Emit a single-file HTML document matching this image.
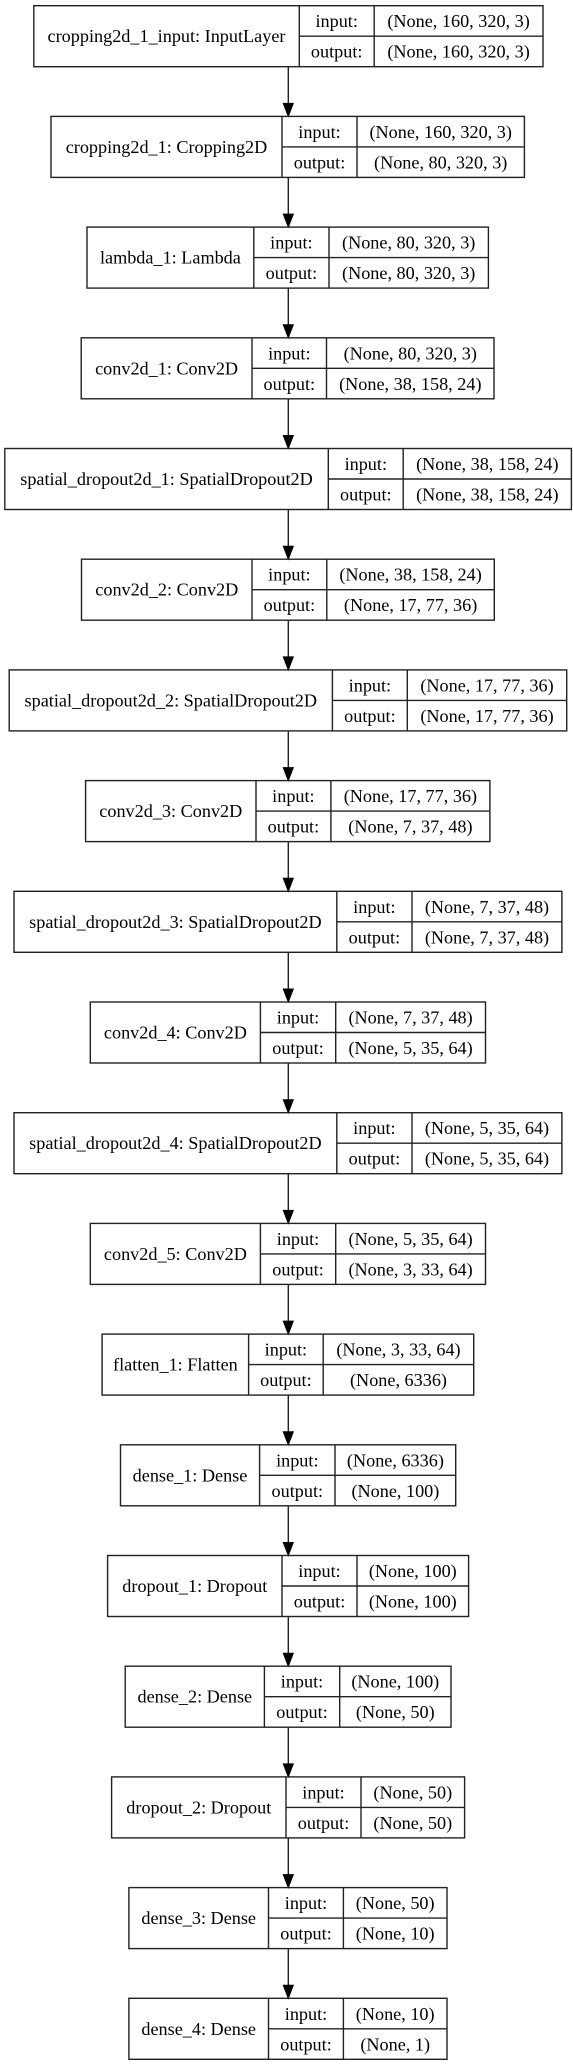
<!DOCTYPE html>
<html><head><meta charset="utf-8"><style>
html,body{margin:0;padding:0;background:#fff;}
svg{display:block;}
text{font-family:"Liberation Serif",serif;font-size:18.2px;fill:#000;text-anchor:middle;}
rect,line{stroke:#222;stroke-width:1.4;fill:none;}
polygon{fill:#000;stroke:#000;stroke-width:1;}
</style></head><body>
<svg width="573" height="2065" viewBox="0 0 573 2065" xmlns="http://www.w3.org/2000/svg">
<rect x="0" y="0" width="573" height="2065" style="fill:#fff;stroke:none"/>

<g transform="translate(0,5.7)">
<rect x="33.8" y="0" width="509.2" height="61"/><line x1="299.3" y1="0" x2="299.3" y2="61"/><line x1="374.2" y1="0" x2="374.2" y2="61"/><line x1="299.3" y1="30.5" x2="543" y2="30.5"/>
<text x="166.5" y="36.5">cropping2d_1_input: InputLayer</text><text x="336.7" y="21.5">input:</text><text x="336.7" y="52">output:</text><text x="458.6" y="21.5">(None, 160, 320, 3)</text><text x="458.6" y="52">(None, 160, 320, 3)</text>
<line x1="288.3" y1="61" x2="288.3" y2="98"/><polygon points="283.3,97.7 293.3,97.7 288.3,110.7"/></g>

<g transform="translate(0,116.4)">
<rect x="51" y="0" width="473.4" height="61"/><line x1="282" y1="0" x2="282" y2="61"/><line x1="357" y1="0" x2="357" y2="61"/><line x1="282" y1="30.5" x2="524.4" y2="30.5"/>
<text x="166.5" y="36.5">cropping2d_1: Cropping2D</text><text x="319.5" y="21.5">input:</text><text x="319.5" y="52">output:</text><text x="440.7" y="21.5">(None, 160, 320, 3)</text><text x="440.7" y="52">(None, 80, 320, 3)</text>
<line x1="288.3" y1="61" x2="288.3" y2="98"/><polygon points="283.3,97.7 293.3,97.7 288.3,110.7"/></g>

<g transform="translate(0,227.1)">
<rect x="87" y="0" width="401.4" height="61"/><line x1="253.8" y1="0" x2="253.8" y2="61"/><line x1="329" y1="0" x2="329" y2="61"/><line x1="253.8" y1="30.5" x2="488.4" y2="30.5"/>
<text x="170.4" y="36.5">lambda_1: Lambda</text><text x="291.4" y="21.5">input:</text><text x="291.4" y="52">output:</text><text x="408.7" y="21.5">(None, 80, 320, 3)</text><text x="408.7" y="52">(None, 80, 320, 3)</text>
<line x1="288.3" y1="61" x2="288.3" y2="98"/><polygon points="283.3,97.7 293.3,97.7 288.3,110.7"/></g>

<g transform="translate(0,337.8)">
<rect x="81.2" y="0" width="412.8" height="61"/><line x1="252" y1="0" x2="252" y2="61"/><line x1="326.5" y1="0" x2="326.5" y2="61"/><line x1="252" y1="30.5" x2="494" y2="30.5"/>
<text x="166.6" y="36.5">conv2d_1: Conv2D</text><text x="289.3" y="21.5">input:</text><text x="289.3" y="52">output:</text><text x="410.3" y="21.5">(None, 80, 320, 3)</text><text x="410.3" y="52">(None, 38, 158, 24)</text>
<line x1="288.3" y1="61" x2="288.3" y2="98"/><polygon points="283.3,97.7 293.3,97.7 288.3,110.7"/></g>

<g transform="translate(0,448.5)">
<rect x="4.8" y="0" width="566.6" height="61"/><line x1="328.3" y1="0" x2="328.3" y2="61"/><line x1="403.2" y1="0" x2="403.2" y2="61"/><line x1="328.3" y1="30.5" x2="571.4" y2="30.5"/>
<text x="166.5" y="36.5">spatial_dropout2d_1: SpatialDropout2D</text><text x="365.8" y="21.5">input:</text><text x="365.8" y="52">output:</text><text x="487.3" y="21.5">(None, 38, 158, 24)</text><text x="487.3" y="52">(None, 38, 158, 24)</text>
<line x1="288.3" y1="61" x2="288.3" y2="98"/><polygon points="283.3,97.7 293.3,97.7 288.3,110.7"/></g>

<g transform="translate(0,559.2)">
<rect x="81.5" y="0" width="412.8" height="61"/><line x1="252" y1="0" x2="252" y2="61"/><line x1="326.8" y1="0" x2="326.8" y2="61"/><line x1="252" y1="30.5" x2="494.3" y2="30.5"/>
<text x="166.8" y="36.5">conv2d_2: Conv2D</text><text x="289.4" y="21.5">input:</text><text x="289.4" y="52">output:</text><text x="410.6" y="21.5">(None, 38, 158, 24)</text><text x="410.6" y="52">(None, 17, 77, 36)</text>
<line x1="288.3" y1="61" x2="288.3" y2="98"/><polygon points="283.3,97.7 293.3,97.7 288.3,110.7"/></g>

<g transform="translate(0,669.9)">
<rect x="9.2" y="0" width="557.5" height="61"/><line x1="332.4" y1="0" x2="332.4" y2="61"/><line x1="407.3" y1="0" x2="407.3" y2="61"/><line x1="332.4" y1="30.5" x2="566.7" y2="30.5"/>
<text x="170.8" y="36.5">spatial_dropout2d_2: SpatialDropout2D</text><text x="369.9" y="21.5">input:</text><text x="369.9" y="52">output:</text><text x="487" y="21.5">(None, 17, 77, 36)</text><text x="487" y="52">(None, 17, 77, 36)</text>
<line x1="288.3" y1="61" x2="288.3" y2="98"/><polygon points="283.3,97.7 293.3,97.7 288.3,110.7"/></g>

<g transform="translate(0,780.6)">
<rect x="85.6" y="0" width="404.3" height="61"/><line x1="256" y1="0" x2="256" y2="61"/><line x1="330.9" y1="0" x2="330.9" y2="61"/><line x1="256" y1="30.5" x2="489.9" y2="30.5"/>
<text x="170.8" y="36.5">conv2d_3: Conv2D</text><text x="293.4" y="21.5">input:</text><text x="293.4" y="52">output:</text><text x="410.4" y="21.5">(None, 17, 77, 36)</text><text x="410.4" y="52">(None, 7, 37, 48)</text>
<line x1="288.3" y1="61" x2="288.3" y2="98"/><polygon points="283.3,97.7 293.3,97.7 288.3,110.7"/></g>

<g transform="translate(0,891.3)">
<rect x="14" y="0" width="547.9" height="61"/><line x1="336.8" y1="0" x2="336.8" y2="61"/><line x1="412" y1="0" x2="412" y2="61"/><line x1="336.8" y1="30.5" x2="561.9" y2="30.5"/>
<text x="175.4" y="36.5">spatial_dropout2d_3: SpatialDropout2D</text><text x="374.4" y="21.5">input:</text><text x="374.4" y="52">output:</text><text x="487" y="21.5">(None, 7, 37, 48)</text><text x="487" y="52">(None, 7, 37, 48)</text>
<line x1="288.3" y1="61" x2="288.3" y2="98"/><polygon points="283.3,97.7 293.3,97.7 288.3,110.7"/></g>

<g transform="translate(0,1002)">
<rect x="90.3" y="0" width="395.2" height="61"/><line x1="260.4" y1="0" x2="260.4" y2="61"/><line x1="335.7" y1="0" x2="335.7" y2="61"/><line x1="260.4" y1="30.5" x2="485.5" y2="30.5"/>
<text x="175.4" y="36.5">conv2d_4: Conv2D</text><text x="298" y="21.5">input:</text><text x="298" y="52">output:</text><text x="410.6" y="21.5">(None, 7, 37, 48)</text><text x="410.6" y="52">(None, 5, 35, 64)</text>
<line x1="288.3" y1="61" x2="288.3" y2="98"/><polygon points="283.3,97.7 293.3,97.7 288.3,110.7"/></g>

<g transform="translate(0,1112.7)">
<rect x="14" y="0" width="547.9" height="61"/><line x1="336.8" y1="0" x2="336.8" y2="61"/><line x1="412" y1="0" x2="412" y2="61"/><line x1="336.8" y1="30.5" x2="561.9" y2="30.5"/>
<text x="175.4" y="36.5">spatial_dropout2d_4: SpatialDropout2D</text><text x="374.4" y="21.5">input:</text><text x="374.4" y="52">output:</text><text x="487" y="21.5">(None, 5, 35, 64)</text><text x="487" y="52">(None, 5, 35, 64)</text>
<line x1="288.3" y1="61" x2="288.3" y2="98"/><polygon points="283.3,97.7 293.3,97.7 288.3,110.7"/></g>

<g transform="translate(0,1223.4)">
<rect x="90.3" y="0" width="395.2" height="61"/><line x1="260.4" y1="0" x2="260.4" y2="61"/><line x1="335.7" y1="0" x2="335.7" y2="61"/><line x1="260.4" y1="30.5" x2="485.5" y2="30.5"/>
<text x="175.4" y="36.5">conv2d_5: Conv2D</text><text x="298" y="21.5">input:</text><text x="298" y="52">output:</text><text x="410.6" y="21.5">(None, 5, 35, 64)</text><text x="410.6" y="52">(None, 3, 33, 64)</text>
<line x1="288.3" y1="61" x2="288.3" y2="98"/><polygon points="283.3,97.7 293.3,97.7 288.3,110.7"/></g>

<g transform="translate(0,1334.1)">
<rect x="102.1" y="0" width="371.6" height="61"/><line x1="248.6" y1="0" x2="248.6" y2="61"/><line x1="323.2" y1="0" x2="323.2" y2="61"/><line x1="248.6" y1="30.5" x2="473.7" y2="30.5"/>
<text x="175.4" y="36.5">flatten_1: Flatten</text><text x="285.9" y="21.5">input:</text><text x="285.9" y="52">output:</text><text x="398.5" y="21.5">(None, 3, 33, 64)</text><text x="398.5" y="52">(None, 6336)</text>
<line x1="288.3" y1="61" x2="288.3" y2="98"/><polygon points="283.3,97.7 293.3,97.7 288.3,110.7"/></g>

<g transform="translate(0,1444.8)">
<rect x="120.5" y="0" width="335.2" height="61"/><line x1="259.6" y1="0" x2="259.6" y2="61"/><line x1="335" y1="0" x2="335" y2="61"/><line x1="259.6" y1="30.5" x2="455.7" y2="30.5"/>
<text x="190" y="36.5">dense_1: Dense</text><text x="297.3" y="21.5">input:</text><text x="297.3" y="52">output:</text><text x="395.4" y="21.5">(None, 6336)</text><text x="395.4" y="52">(None, 100)</text>
<line x1="288.3" y1="61" x2="288.3" y2="98"/><polygon points="283.3,97.7 293.3,97.7 288.3,110.7"/></g>

<g transform="translate(0,1555.5)">
<rect x="107.6" y="0" width="361" height="61"/><line x1="282" y1="0" x2="282" y2="61"/><line x1="357" y1="0" x2="357" y2="61"/><line x1="282" y1="30.5" x2="468.6" y2="30.5"/>
<text x="194.8" y="36.5">dropout_1: Dropout</text><text x="319.5" y="21.5">input:</text><text x="319.5" y="52">output:</text><text x="412.8" y="21.5">(None, 100)</text><text x="412.8" y="52">(None, 100)</text>
<line x1="288.3" y1="61" x2="288.3" y2="98"/><polygon points="283.3,97.7 293.3,97.7 288.3,110.7"/></g>

<g transform="translate(0,1666.2)">
<rect x="125.2" y="0" width="325.8" height="61"/><line x1="264.4" y1="0" x2="264.4" y2="61"/><line x1="339.7" y1="0" x2="339.7" y2="61"/><line x1="264.4" y1="30.5" x2="451" y2="30.5"/>
<text x="194.8" y="36.5">dense_2: Dense</text><text x="302" y="21.5">input:</text><text x="302" y="52">output:</text><text x="395.3" y="21.5">(None, 100)</text><text x="395.3" y="52">(None, 50)</text>
<line x1="288.3" y1="61" x2="288.3" y2="98"/><polygon points="283.3,97.7 293.3,97.7 288.3,110.7"/></g>

<g transform="translate(0,1776.9)">
<rect x="111.6" y="0" width="353" height="61"/><line x1="286" y1="0" x2="286" y2="61"/><line x1="361" y1="0" x2="361" y2="61"/><line x1="286" y1="30.5" x2="464.6" y2="30.5"/>
<text x="198.8" y="36.5">dropout_2: Dropout</text><text x="323.5" y="21.5">input:</text><text x="323.5" y="52">output:</text><text x="412.8" y="21.5">(None, 50)</text><text x="412.8" y="52">(None, 50)</text>
<line x1="288.3" y1="61" x2="288.3" y2="98"/><polygon points="283.3,97.7 293.3,97.7 288.3,110.7"/></g>

<g transform="translate(0,1887.6)">
<rect x="128.9" y="0" width="318.1" height="61"/><line x1="268.5" y1="0" x2="268.5" y2="61"/><line x1="343.4" y1="0" x2="343.4" y2="61"/><line x1="268.5" y1="30.5" x2="447" y2="30.5"/>
<text x="198.7" y="36.5">dense_3: Dense</text><text x="306" y="21.5">input:</text><text x="306" y="52">output:</text><text x="395.2" y="21.5">(None, 50)</text><text x="395.2" y="52">(None, 10)</text>
<line x1="288.3" y1="61" x2="288.3" y2="98"/><polygon points="283.3,97.7 293.3,97.7 288.3,110.7"/></g>

<g transform="translate(0,1998.3)">
<rect x="128.9" y="0" width="318.1" height="61"/><line x1="268.5" y1="0" x2="268.5" y2="61"/><line x1="343.4" y1="0" x2="343.4" y2="61"/><line x1="268.5" y1="30.5" x2="447" y2="30.5"/>
<text x="198.7" y="36.5">dense_4: Dense</text><text x="306" y="21.5">input:</text><text x="306" y="52">output:</text><text x="395.2" y="21.5">(None, 10)</text><text x="395.2" y="52">(None, 1)</text>
</g>
</svg>
</body></html>
